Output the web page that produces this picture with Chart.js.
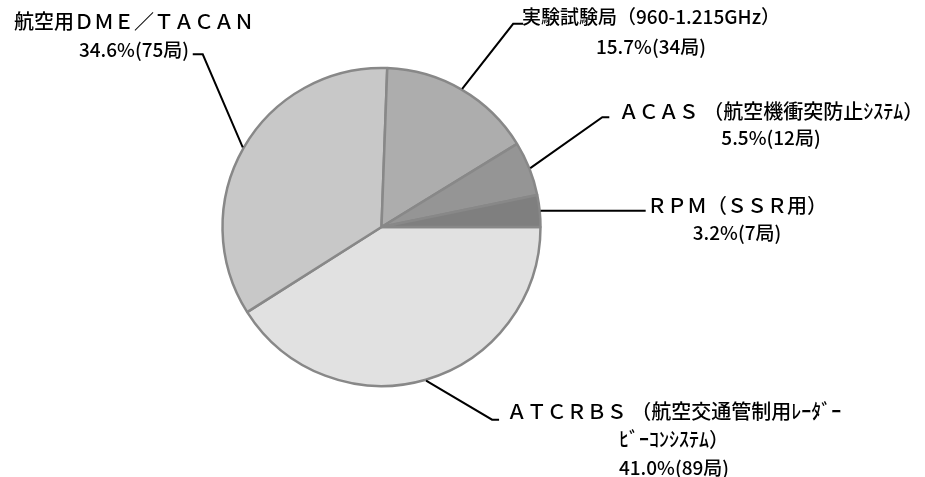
<!DOCTYPE html>
<html>
<head>
<meta charset="utf-8">
<script src="https://cdn.jsdelivr.net/npm/chart.js@4/dist/chart.umd.min.js"></script>
<style>
  html, body { margin: 0; padding: 0; background: #fff; }
  #wrap { width: 925px; height: 477px; }
</style>
</head>
<body>
<div id="wrap"><canvas id="pie" width="925" height="477"></canvas></div>
<script>
// categories (clockwise from 3 o'clock)
const names = [
    ['ＡＴＣＲＢＳ （航空交通管制用ﾚｰﾀﾞｰ', 'ﾋﾞｰｺﾝｼｽﾃﾑ）'],
    ['航空用ＤＭＥ／ＴＡＣＡＮ'],
    ['実験試験局（960-1.215GHz）'],
    ['ＡＣＡＳ （航空機衝突防止ｼｽﾃﾑ）'],
    ['ＲＰＭ（ＳＳＲ用）']
];
// number of stations
const stations = [89, 75, 34, 12, 7];
const sliceColors = ['#e1e1e1', '#c8c8c8', '#adadad', '#959595', '#7f7f7f'];

const total = stations.reduce((a, b) => a + b, 0);

// label placement: leader elbow relative to arc anchor, tail length, text block
const labelLayout = [
    { ex: 66, ey: 39, tail: 7, cx: 674, y: 411, lh: 28.5 },
    { ex: -40, ey: -93, tail: -10, cx: 134, y: 21, lh: 29 },
    { ex: 51, ey: -65, tail: 10, cx: 651, y: 17, lh: 30 },
    { ex: 72, ey: -51, tail: 7, cx: 771, y: 111, lh: 27 },
    { ex: 0, ey: 0, tail: 105, cx: 737, y: 205, lh: 28 }
];

const leaderPlugin = {
    id: 'leaders',
    afterDraw(chart) {
        const ctx = chart.ctx;
        const arcs = chart.getDatasetMeta(0).data;
        ctx.save();
        arcs.forEach((arc, i) => {
            const p = arc.getProps(['x', 'y', 'startAngle', 'endAngle', 'outerRadius'], true);
            const mid = (p.startAngle + p.endAngle) / 2;
            const r = p.outerRadius + 1;
            const ax = p.x + Math.cos(mid) * r;
            const ay = p.y + Math.sin(mid) * r;
            const L = labelLayout[i];
            const bx = ax + L.ex, by = ay + L.ey;

            ctx.strokeStyle = '#000';
            ctx.lineWidth = 2;
            ctx.beginPath();
            ctx.moveTo(ax, ay);
            ctx.lineTo(bx, by);
            ctx.lineTo(bx + L.tail, by);
            ctx.stroke();

            ctx.fillStyle = '#000';
            ctx.textAlign = 'center';
            ctx.textBaseline = 'middle';
            const lines = names[i].slice();
            const pct = (stations[i] / total * 100).toFixed(1) + '%(' + stations[i] + '局)';
            lines.push(pct);
            lines.forEach((t, k) => {
                const isPct = k === lines.length - 1;
                let size = isPct ? 19 : 20;
                if (i === 2 && k === 0) size = 19;
                ctx.font = '500 ' + size + 'px "Noto Sans CJK JP", sans-serif';
                ctx.fillText(t, L.cx, L.y + k * L.lh);
            });
        });
        ctx.restore();
    }
};

new Chart(document.getElementById('pie'), {
    type: 'pie',
    data: {
        labels: names.map(n => n.join('')),
        datasets: [{
            data: stations,
            backgroundColor: sliceColors,
            borderColor: '#888888',
            borderWidth: 2.5,
            radius: 159
        }]
    },
    options: {
        responsive: false,
        animation: false,
        rotation: 90,
        layout: { padding: { left: 0, right: 162, top: 0, bottom: 23 } },
        plugins: {
            legend: { display: false },
            tooltip: { enabled: false }
        }
    },
    plugins: [leaderPlugin]
});
</script>
</body>
</html>
